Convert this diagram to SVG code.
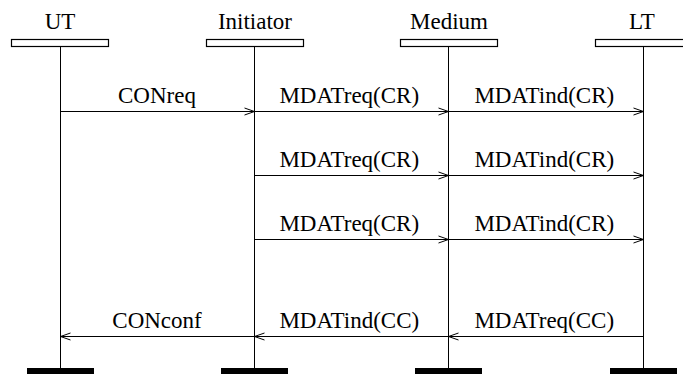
<svg xmlns="http://www.w3.org/2000/svg" width="683" height="374" viewBox="0 0 683 374" font-family="Liberation Serif" font-size="23">
  <defs>
    <!-- open arrowhead, drawn pointing along +x from the tip at 0,0 -->
    <path id="headR" d="M-10,-3.5 L0,0 L-10,3.5" fill="none" stroke="#000" stroke-width="1"/>
    <path id="headL" d="M10,-3.5 L0,0 L10,3.5" fill="none" stroke="#000" stroke-width="1"/>
  </defs>
  <rect width="683" height="374" fill="#fff"/>

  <!-- lifeline heads, lines and feet -->
  <g id="UT">
    <text x="44.7" y="29">UT</text>
    <rect x="11.5" y="39.5" width="97" height="7" fill="#fff" stroke="#000" stroke-width="1.2"/>
    <line x1="60.5" y1="47" x2="60.5" y2="368" stroke="#000"/>
    <rect x="27" y="368" width="67" height="6" fill="#000"/>
  </g>
  <g id="Initiator">
    <text x="217.9" y="29">Initiator</text>
    <rect x="206.5" y="39.5" width="97" height="7" fill="#fff" stroke="#000" stroke-width="1.2"/>
    <line x1="254.5" y1="47" x2="254.5" y2="368" stroke="#000"/>
    <rect x="221" y="368" width="67" height="6" fill="#000"/>
  </g>
  <g id="Medium">
    <text x="410" y="29">Medium</text>
    <rect x="400.5" y="39.5" width="97" height="7" fill="#fff" stroke="#000" stroke-width="1.2"/>
    <line x1="448.5" y1="47" x2="448.5" y2="368" stroke="#000"/>
    <rect x="415" y="368" width="67" height="6" fill="#000"/>
  </g>
  <g id="LT">
    <text x="628.9" y="29">LT</text>
    <rect x="595.5" y="39.5" width="97" height="7" fill="#fff" stroke="#000" stroke-width="1.2"/>
    <line x1="643.5" y1="47" x2="643.5" y2="368" stroke="#000"/>
    <rect x="610" y="368" width="67" height="6" fill="#000"/>
  </g>

  <!-- messages -->
  <g id="connectors" stroke="#000" stroke-width="1" fill="none">
    <line x1="60.5" y1="111.5" x2="254.5" y2="111.5"/>
    <line x1="254.5" y1="111.5" x2="448.5" y2="111.5"/>
    <line x1="448.5" y1="111.5" x2="643.5" y2="111.5"/>
    <line x1="254.5" y1="175.5" x2="448.5" y2="175.5"/>
    <line x1="448.5" y1="175.5" x2="643.5" y2="175.5"/>
    <line x1="254.5" y1="239.5" x2="448.5" y2="239.5"/>
    <line x1="448.5" y1="239.5" x2="643.5" y2="239.5"/>
    <line x1="643.5" y1="336.5" x2="448.5" y2="336.5"/>
    <line x1="448.5" y1="336.5" x2="254.5" y2="336.5"/>
    <line x1="254.5" y1="336.5" x2="60.5" y2="336.5"/>
    <use href="#headR" x="254.5" y="111.5"/>
    <use href="#headR" x="448.5" y="111.5"/>
    <use href="#headR" x="643.5" y="111.5"/>
    <use href="#headR" x="448.5" y="175.5"/>
    <use href="#headR" x="643.5" y="175.5"/>
    <use href="#headR" x="448.5" y="239.5"/>
    <use href="#headR" x="643.5" y="239.5"/>
    <use href="#headL" x="448.5" y="336.5"/>
    <use href="#headL" x="254.5" y="336.5"/>
    <use href="#headL" x="60.5" y="336.5"/>
  </g>
  <g id="labels">
    <text x="118" y="103">CONreq</text>
    <text x="279.4" y="103">MDATreq(CR)</text>
    <text x="474.4" y="103">MDATind(CR)</text>
    <text x="279.4" y="167">MDATreq(CR)</text>
    <text x="474.4" y="167">MDATind(CR)</text>
    <text x="279.4" y="231">MDATreq(CR)</text>
    <text x="474.4" y="231">MDATind(CR)</text>
    <text x="112.3" y="328">CONconf</text>
    <text x="279.4" y="328">MDATind(CC)</text>
    <text x="474.4" y="328">MDATreq(CC)</text>
  </g>
</svg>
